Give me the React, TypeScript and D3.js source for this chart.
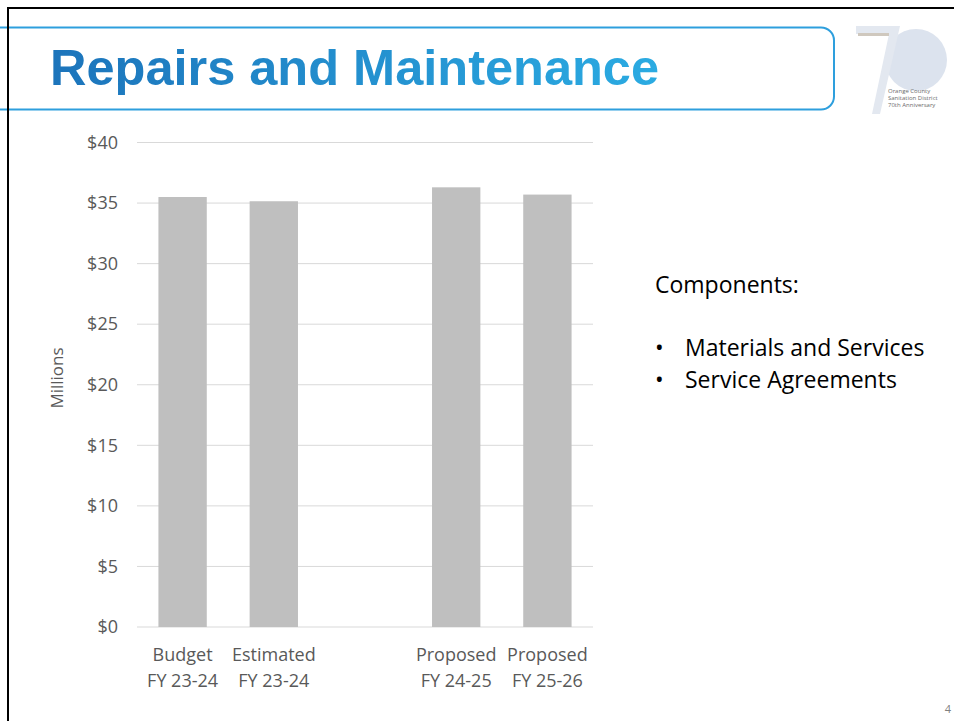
import * as d3 from 'd3';
import { useEffect, useRef } from 'react';

// chart values (millions of dollars)
const categories = ['Budget|FY 23-24', 'Estimated|FY 23-24', 'gap', 'Proposed|FY 24-25', 'Proposed|FY 25-26'];
const values: (number | null)[] = [35.5, 35.15, null, 36.3, 35.7];
const yTicks = [0, 5, 10, 15, 20, 25, 30, 35, 40];
const components = ['Materials and Services', 'Service Agreements'];
const logoLines = ['Orange County', 'Sanitation District', '70th Anniversary'];

const SANS = '"Open Sans", "Noto Sans", sans-serif';

const App = () => {
  const ref = useRef<SVGSVGElement>(null);

  useEffect(() => {
    const svg = d3.select(ref.current);
    svg.selectAll('*').remove();

    svg.append('rect').attr('width', 954).attr('height', 721).attr('fill', '#fff');

    // title gradient
    const defs = svg.append('defs');
    const grad = defs.append('linearGradient')
      .attr('id', 'titleGrad')
      .attr('gradientUnits', 'userSpaceOnUse')
      .attr('x1', 50).attr('x2', 660).attr('y1', 0).attr('y2', 0);
    grad.append('stop').attr('offset', '0%').attr('stop-color', '#1C74BB');
    grad.append('stop').attr('offset', '100%').attr('stop-color', '#2BABE2');

    // header box
    svg.append('rect')
      .attr('x', -20).attr('y', 27.5)
      .attr('width', 854).attr('height', 82)
      .attr('rx', 13)
      .attr('fill', 'none')
      .attr('stroke', '#2E9FDD')
      .attr('stroke-width', 2);

    svg.append('text')
      .attr('x', 50).attr('y', 85)
      .attr('font-family', '"Liberation Sans", Arial, sans-serif')
      .attr('font-weight', 'bold')
      .attr('font-size', 50.5)
      .attr('fill', 'url(#titleGrad)')
      .text('Repairs and Maintenance');

    // slide border (left and top)
    svg.append('path')
      .attr('d', 'M8,954 V8 H960')
      .attr('fill', 'none')
      .attr('stroke', '#000')
      .attr('stroke-width', 2);

    // logo
    const logo = svg.append('g');
    logo.append('circle').attr('cx', 916).attr('cy', 60).attr('r', 31).attr('fill', '#DCE3EE');
    logo.append('path')
      .attr('d', 'M856,26 L900,26 L880,114 L872,114 L889,34 L856,34 Z')
      .attr('fill', '#E3E8F0');
    logo.append('path')
      .attr('d', 'M858,33 L889,33 L889,36 L858,36 Z')
      .attr('fill', '#CFC8BE');
    logo.selectAll('.logo-text')
      .data(logoLines)
      .enter()
      .append('text')
      .attr('x', 888)
      .attr('y', (d, i) => 93 + i * 7)
      .attr('font-family', SANS)
      .attr('font-size', 6)
      .attr('fill', '#6b6b6b')
      .text(d => d);

    // chart
    const margin = { left: 137, right: 593, top: 142.5, bottom: 627 };
    const x = d3.scaleBand()
      .domain(categories)
      .range([margin.left, margin.right])
      .paddingInner(0.47)
      .paddingOuter(0.235);

    const y = d3.scaleLinear()
      .domain([0, 40])
      .range([margin.bottom, margin.top]);

    const chart = svg.append('g');

    chart.selectAll('.grid')
      .data(yTicks)
      .enter()
      .append('line')
      .attr('x1', margin.left)
      .attr('x2', margin.right)
      .attr('y1', d => y(d))
      .attr('y2', d => y(d))
      .attr('stroke', '#D9D9D9')
      .attr('stroke-width', 1);

    chart.selectAll('.tick-label')
      .data(yTicks)
      .enter()
      .append('text')
      .attr('x', 118)
      .attr('y', d => y(d))
      .attr('dy', '0.35em')
      .attr('text-anchor', 'end')
      .attr('font-family', SANS)
      .attr('font-size', 18)
      .attr('fill', '#595959')
      .text(d => `$${d}`);

    chart.selectAll('.bar')
      .data(categories.map((c, i) => ({ c, v: values[i] })).filter(d => d.v !== null))
      .enter()
      .append('rect')
      .attr('x', d => x(d.c) as number)
      .attr('y', d => y(d.v as number))
      .attr('width', x.bandwidth())
      .attr('height', d => y(0) - y(d.v as number))
      .attr('fill', '#BFBFBF');

    const xl = chart.selectAll('.x-label')
      .data(categories.filter(c => c !== 'gap'))
      .enter()
      .append('text')
      .attr('text-anchor', 'middle')
      .attr('font-family', SANS)
      .attr('font-size', 18)
      .attr('fill', '#595959');
    xl.append('tspan')
      .attr('x', d => (x(d) as number) + x.bandwidth() / 2)
      .attr('y', 661)
      .text(d => d.split('|')[0]);
    xl.append('tspan')
      .attr('x', d => (x(d) as number) + x.bandwidth() / 2)
      .attr('y', 687)
      .text(d => d.split('|')[1]);

    chart.append('text')
      .attr('transform', 'translate(63,378) rotate(-90)')
      .attr('text-anchor', 'middle')
      .attr('font-family', SANS)
      .attr('font-size', 17)
      .attr('fill', '#595959')
      .text('Millions');

    // side text
    svg.append('text')
      .attr('x', 655).attr('y', 293)
      .attr('font-family', SANS)
      .attr('font-size', 23)
      .attr('fill', '#000')
      .text('Components:');

    const items = svg.selectAll('.item')
      .data(components)
      .enter()
      .append('g');
    items.append('text')
      .attr('x', 655)
      .attr('y', (d, i) => 356 + i * 32)
      .attr('font-family', SANS)
      .attr('font-size', 23)
      .text('•');
    items.append('text')
      .attr('x', 685)
      .attr('y', (d, i) => 356 + i * 32)
      .attr('font-family', SANS)
      .attr('font-size', 23)
      .attr('fill', '#000')
      .text(d => d);

    svg.append('text')
      .attr('x', 951).attr('y', 713)
      .attr('text-anchor', 'end')
      .attr('font-family', SANS)
      .attr('font-size', 11)
      .attr('fill', '#808080')
      .text('4');
  }, []);

  return (
    <svg
      ref={ref}
      width={954}
      height={721}
      style={{ position: 'absolute', left: 0, top: 0, display: 'block' }}
    />
  );
};

export default App;
